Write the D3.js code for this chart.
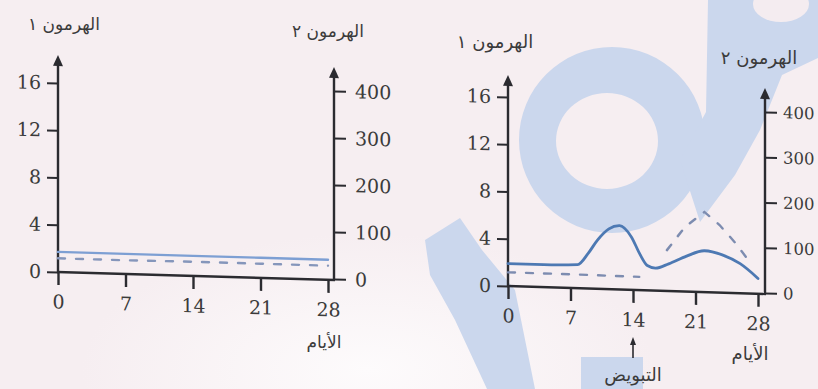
<!DOCTYPE html>
<html><head><meta charset="utf-8">
<script src="https://cdn.jsdelivr.net/npm/d3@7"></script>
<style>
html,body{margin:0;padding:0;background:#f6eef1;}
svg{display:block;}
</style></head><body>
<svg id="c" width="818" height="389"></svg>
<script>
// ---- data ----
const dayTicks = [0, 7, 14, 21, 28];
const hormone1Ticks = [0, 4, 8, 12, 16];
const hormone2Ticks = [0, 100, 200, 300, 400];

// left panel (no cycle)
const controlDays = [0, 7, 14, 21, 28];
const controlHormone1 = [1.7, 1.7, 1.7, 1.7, 1.7];
const controlHormone2 = [27, 27, 28, 28, 28];

// right panel (cycle)
const cycleDays1 = [0, 4, 7.8, 9, 10, 11.3, 12.5, 13.8, 14.8, 15.6, 16.5, 18, 20, 22, 24, 26, 28];
const cycleHormone1 = [1.9, 1.9, 2.0, 3.0, 4.1, 5.1, 5.4, 4.5, 3.0, 2.1, 1.9, 2.3, 3.0, 3.5, 3.2, 2.5, 1.3];
const cycleDays2 = [0, 7, 14.7, 16.3, 17.8, 19.8, 22, 23.7, 25.4, 27.3];
const cycleHormone2 = [28, 28, 27, null, 88, 140, 175, 147, 110, 62];

const labelH1 = "الهرمون ١";
const labelH2 = "الهرمون ٢";
const labelDays = "الأيام";
const labelOvulation = "التبويض";

// ---- drawing ----
const svg = d3.select("#c");
const AX = "#2b2b30";
const TXT = "#3b3b3b";
const NUMFONT = "'DejaVu Serif', 'Liberation Serif', serif";
const ARFONT = "'DejaVu Sans', 'Noto Sans', sans-serif";

// background wash + watermark
const defs = svg.append("defs");
const grad = defs.append("radialGradient").attr("id", "wash").attr("cx", "0.45").attr("cy", "0.95").attr("r", "0.35");
grad.append("stop").attr("offset", "0").attr("stop-color", "#fdfbfc");
grad.append("stop").attr("offset", "1").attr("stop-color", "#f6eef1");
const bg = svg.append("g");
bg.append("rect").attr("width", 818).attr("height", 389).attr("fill", "url(#wash)");
const wm = "#cbd7ed";
bg.append("path").attr("fill", wm).attr("fill-rule", "evenodd")
  .attr("d", "M519,140 A93,93 0 1,0 705,140 A93,93 0 1,0 519,140 Z M556,141 A51,48 0 1,0 658,141 A51,48 0 1,0 556,141 Z");
bg.append("path").attr("fill", wm)
  .attr("d", "M708,0 L818,0 L818,58 L782,75 L760,130 L735,175 L700,222 L680,160 L706,112 Z");
bg.append("ellipse").attr("cx", 781).attr("cy", 4).attr("rx", 28).attr("ry", 18).attr("fill", "#f4ecf0");
bg.append("path").attr("fill", wm)
  .attr("d", "M425,240 L460,218 L482,250 L515,290 L535,389 L487,389 L455,320 L430,275 Z");
bg.append("rect").attr("x", 581).attr("y", 357).attr("width", 62).attr("height", 32).attr("fill", wm);

function drawPanel(cfg) {
  const k = cfg.skew;
  const g = svg.append("g")
    .attr("transform", `translate(${cfg.x0},0) skewY(${Math.atan(k) * 180 / Math.PI})`);
  const x = d3.scaleLinear().domain([0, 28]).range([0, cfg.day28]);
  const y1 = d3.scaleLinear().domain([0, 16]).range(cfg.y1Range);
  const y2 = d3.scaleLinear().domain([0, 400]).range(cfg.y2Range);

  // left axis
  const la = g.append("g").call(d3.axisLeft(y1).tickValues(hormone1Ticks).tickSize(11).tickPadding(6));
  la.select(".domain").remove();
  la.selectAll("line").attr("stroke", AX).attr("stroke-width", 2);
  la.selectAll("text").attr("font-family", NUMFONT).attr("font-size", 19).attr("fill", TXT);
  g.append("line").attr("x1", 0).attr("x2", 0).attr("y1", y1(0)).attr("y2", cfg.leftTop + 8)
    .attr("stroke", AX).attr("stroke-width", 2.4);
  g.append("path").attr("d", `M0,${cfg.leftTop} L-5,${cfg.leftTop + 11} L5,${cfg.leftTop + 11} Z`).attr("fill", AX);

  // right axis
  const ra = g.append("g").attr("transform", `translate(${cfg.rightAxis},0)`)
    .call(d3.axisRight(y2).tickValues(hormone2Ticks).tickSize(12).tickPadding(cfg.rPad));
  ra.select(".domain").remove();
  ra.selectAll("line").attr("stroke", AX).attr("stroke-width", 2);
  ra.selectAll("text").attr("font-family", NUMFONT).attr("font-size", cfg.rFont).attr("fill", TXT);
  g.append("line").attr("x1", cfg.rightAxis).attr("x2", cfg.rightAxis).attr("y1", y2(0)).attr("y2", cfg.rightTop + 8)
    .attr("stroke", AX).attr("stroke-width", 2.4);
  g.append("path").attr("d", `M${cfg.rightAxis},${cfg.rightTop} L${cfg.rightAxis - 5},${cfg.rightTop + 11} L${cfg.rightAxis + 5},${cfg.rightTop + 11} Z`).attr("fill", AX);

  // x axis
  const xa = g.append("g").attr("transform", `translate(0,${y1(0)})`)
    .call(d3.axisBottom(x).tickValues(dayTicks).tickSize(13).tickPadding(10));
  xa.select(".domain").remove();
  xa.selectAll("line").attr("stroke", AX).attr("stroke-width", 2.4);
  xa.selectAll("text").attr("font-family", NUMFONT).attr("font-size", 19).attr("fill", TXT);
  g.append("line").attr("x1", -1).attr("x2", cfg.rightAxis + 1).attr("y1", y1(0)).attr("y2", y1(0))
    .attr("stroke", AX).attr("stroke-width", 2.4);

  // series
  const d1 = cfg.days1.map((d, i) => [d, cfg.h1[i]]);
  const d2 = cfg.days2.map((d, i) => [d, cfg.h2[i]]);
  g.append("path").datum(d2)
    .attr("d", d3.line().defined(d => d[1] != null).x(d => x(d[0])).y(d => y2(d[1])).curve(d3.curveLinear))
    .attr("fill", "none").attr("stroke", cfg.dashColor).attr("stroke-width", 2.4)
    .attr("stroke-dasharray", "7,11").attr("stroke-linecap", "round");
  g.append("path").datum(d1)
    .attr("d", d3.line().x(d => x(d[0])).y(d => y1(d[1])).curve(d3.curveMonotoneX))
    .attr("fill", "none").attr("stroke", cfg.solidColor).attr("stroke-width", cfg.solidWidth)
    .attr("stroke-linecap", "round");
  return { g, x, y1, y2 };
}

drawPanel({
  x0: 58, skew: 8 / 276, day28: 270, rightAxis: 276,
  y1Range: [272, 83], y2Range: [271, 83], leftTop: 55, rightTop: 59,
  rPad: 9, rFont: 19,
  days1: controlDays, h1: controlHormone1, days2: controlDays, h2: controlHormone2,
  solidColor: "#7d9fd3", solidWidth: 2.4, dashColor: "#8596bb"
});
const right = drawPanel({
  x0: 508, skew: 8 / 257, day28: 250, rightAxis: 257,
  y1Range: [286, 97], y2Range: [285, 104], leftTop: 75, rightTop: 80,
  rPad: 6, rFont: 16.5,
  days1: cycleDays1, h1: cycleHormone1, days2: cycleDays2, h2: cycleHormone2,
  solidColor: "#4d79b3", solidWidth: 2.8, dashColor: "#7d8cb0"
});

// text labels
function arText(t, cx, cy, size) {
  svg.append("text").attr("x", cx).attr("y", cy).attr("text-anchor", "middle")
    .attr("dominant-baseline", "middle").attr("direction", "rtl")
    .attr("font-family", ARFONT).attr("font-size", size).attr("fill", TXT).text(t);
}
arText(labelH1, 64, 25, 17);
arText(labelH2, 328, 32, 17);
arText(labelDays, 324, 343, 17);
arText(labelH1, 495, 43, 18);
arText(labelH2, 759, 59, 18);
arText(labelDays, 750, 355, 18);
arText(labelOvulation, 633, 376, 18);

// ovulation arrow under day 14 (right panel)
const ovX = 508 + right.x(14);
svg.append("line").attr("x1", ovX).attr("x2", ovX).attr("y1", 358).attr("y2", 342)
  .attr("stroke", AX).attr("stroke-width", 1.6);
svg.append("path").attr("d", `M${ovX},337 L${ovX - 3},345 L${ovX + 3},345 Z`).attr("fill", AX);
</script>
</body></html>
